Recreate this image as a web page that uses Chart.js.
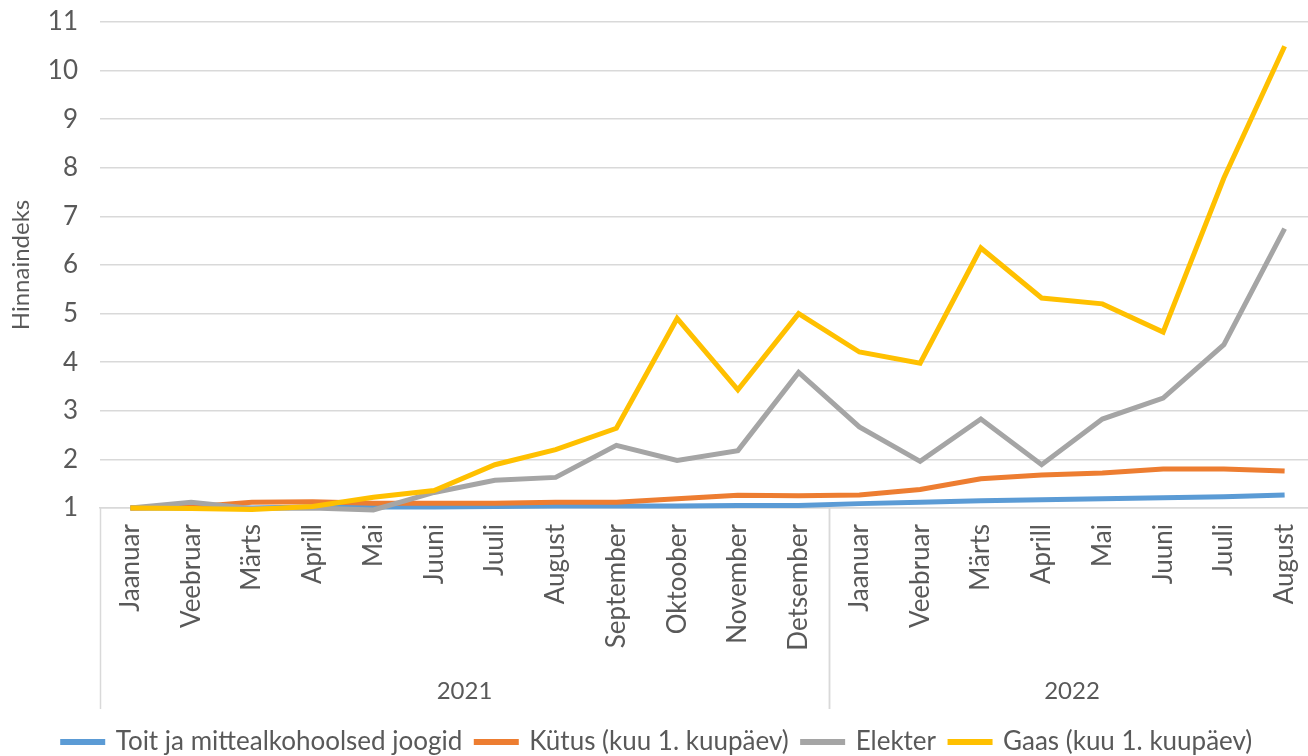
<!DOCTYPE html>
<html lang="et">
<head>
<meta charset="utf-8">
<title>Hinnaindeks</title>
<script src="https://cdn.jsdelivr.net/npm/chart.js@4.4.1/dist/chart.umd.min.js"></script>
<style>
  html, body { margin: 0; padding: 0; background: #fff; overflow: hidden; }
  #wrap { position: relative; width: 1316px; height: 765px; }
</style>
</head>
<body>
<div id="wrap"><canvas id="hinnaChart"></canvas></div>
<script>
const kuud = ["Jaanuar", "Veebruar", "Märts", "Aprill", "Mai", "Juuni", "Juuli", "August",
  "September", "Oktoober", "November", "Detsember",
  "Jaanuar", "Veebruar", "Märts", "Aprill", "Mai", "Juuni", "Juuli", "August"];
const aastad = [
  { nimi: "2021", algus: 0, lopp: 11 },
  { nimi: "2022", algus: 12, lopp: 19 }
];
const yTicks = [1, 2, 3, 4, 5, 6, 7, 8, 9, 10, 11];

const toit = [1.0, 1.0, 1.0, 1.02, 1.02, 1.02, 1.03, 1.04, 1.04, 1.04, 1.05, 1.05,
  1.09, 1.12, 1.15, 1.17, 1.19, 1.21, 1.23, 1.27];
const kutus = [1.0, 1.02, 1.12, 1.13, 1.1, 1.1, 1.1, 1.12, 1.12, 1.19, 1.26, 1.25,
  1.27, 1.38, 1.6, 1.68, 1.72, 1.8, 1.8, 1.76];
const elekter = [1.0, 1.12, 0.99, 1.0, 0.96, 1.32, 1.57, 1.63, 2.29, 1.98, 2.18, 3.79,
  2.67, 1.96, 2.83, 1.89, 2.83, 3.26, 4.36, 6.75];
const gaas = [1.0, 0.99, 0.97, 1.03, 1.22, 1.36, 1.89, 2.2, 2.64, 4.9, 3.43, 5.0,
  4.21, 3.98, 6.35, 5.32, 5.2, 4.62, 7.79, 10.5];

const tekstiVarv = "#595959";
const joonVarv = "#d9d9d9";
const font = "Lato, 'Liberation Sans', sans-serif";

// aastate grupid x-telje all
const aastaPlugin = {
  id: "aastad",
  afterDraw(chart) {
    const x = chart.scales.x;
    const ctx = chart.ctx;
    const samm = x.getPixelForValue(1) - x.getPixelForValue(0);
    const alumine = chart.chartArea.bottom;
    ctx.save();
    ctx.strokeStyle = joonVarv;
    ctx.lineWidth = 1.5;
    ctx.fillStyle = tekstiVarv;
    ctx.font = "24px " + font;
    ctx.textAlign = "center";
    ctx.textBaseline = "middle";
    aastad.forEach(a => {
      const vasak = x.getPixelForValue(a.algus) - samm / 2;
      const parem = x.getPixelForValue(a.lopp) + samm / 2;
      [vasak, parem].forEach(px => {
        ctx.beginPath();
        ctx.moveTo(Math.round(px) + 0.5, alumine);
        ctx.lineTo(Math.round(px) + 0.5, alumine + 201);
        ctx.stroke();
      });
      ctx.fillText(a.nimi, (vasak + parem) / 2, alumine + 183);
    });
    ctx.restore();
  }
};

function seeria(nimi, andmed, varv, jarjekord) {
  return {
    label: nimi,
    data: andmed,
    borderColor: varv,
    backgroundColor: varv,
    borderWidth: 5,
    pointRadius: 0,
    tension: 0,
    clip: false,
    order: jarjekord
  };
}

new Chart(document.getElementById("hinnaChart"), {
  type: "line",
  data: {
    labels: kuud,
    datasets: [
      seeria("Toit ja mittealkohoolsed joogid", toit, "#5B9BD5", 4),
      seeria("Kütus (kuu 1. kuupäev)", kutus, "#ED7D31", 3),
      seeria("Elekter", elekter, "#A5A5A5", 2),
      seeria("Gaas (kuu 1. kuupäev)", gaas, "#FFC000", 1)
    ]
  },
  options: {
    responsive: true,
    maintainAspectRatio: false,
    animation: false,
    layout: { padding: { top: 22, right: 1, left: 0, bottom: 0 } },
    plugins: {
      tooltip: { enabled: false },
      legend: {
        position: "bottom",
        labels: {
          color: tekstiVarv,
          font: { family: font, size: 26 },
          boxWidth: 40,
          boxHeight: 1,
          padding: 14,
          sort: (a, b) => a.datasetIndex - b.datasetIndex
        }
      }
    },
    scales: {
      x: {
        offset: true,
        grid: { display: false, drawTicks: false },
        border: { color: joonVarv, width: 1.5 },
        ticks: {
          color: tekstiVarv,
          font: { family: font, size: 26 },
          maxRotation: 90,
          minRotation: 90,
          autoSkip: false,
          padding: 16
        },
        afterFit(scale) {
          scale.height = 207;
          scale.paddingLeft = 0;
          scale.paddingRight = 0;
        }
      },
      y: {
        min: 1,
        max: 11,
        afterBuildTicks(scale) { scale.ticks = yTicks.map(v => ({ value: v })); },
        grid: { color: joonVarv, lineWidth: 1.5, drawTicks: false },
        border: { display: false },
        ticks: {
          color: tekstiVarv,
          font: { family: font, size: 26 },
          padding: 22
        },
        title: {
          display: true,
          text: "Hinnaindeks",
          color: tekstiVarv,
          font: { family: font, size: 24 },
          padding: { top: 7, bottom: 0 }
        },
        afterFit(scale) {
          scale.width = 100;
          scale.paddingTop = 0;
          scale.paddingBottom = 0;
        }
      }
    }
  },
  plugins: [aastaPlugin]
});
</script>
</body>
</html>
